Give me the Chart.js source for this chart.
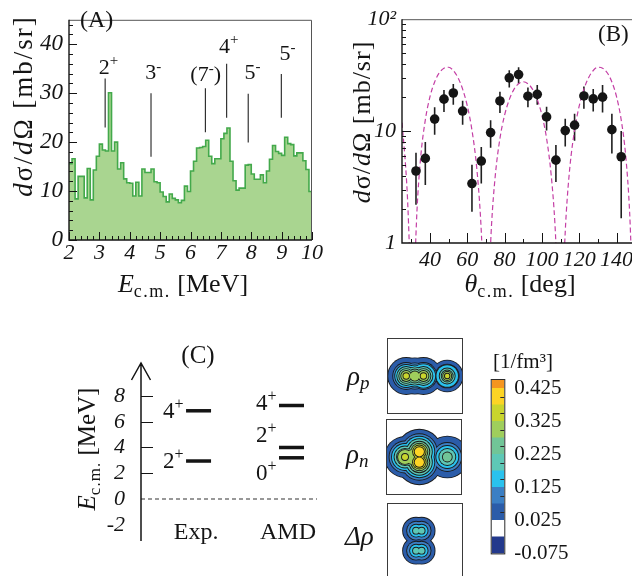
<!DOCTYPE html>
<html>
<head>
<meta charset="utf-8">
<script src="https://cdn.jsdelivr.net/npm/chart.js@4.4.1/dist/chart.umd.min.js"></script>
<style>
  html, body { margin: 0; padding: 0; background: #fff; }
  body { width: 632px; height: 576px; overflow: hidden; position: relative; }
  canvas { position: absolute; }
</style>
</head>
<body>
<canvas id="chartA" width="330" height="300" style="left:0;top:0"></canvas>
<canvas id="chartB" width="320" height="300" style="left:320px;top:0"></canvas>
<canvas id="chartC" width="330" height="246" style="left:0;top:330px"></canvas>
<canvas id="rhoP" width="132" height="82" style="left:335px;top:335px"></canvas>
<canvas id="rhoN" width="132" height="82" style="left:335px;top:416px"></canvas>
<canvas id="dRho" width="132" height="82" style="left:335px;top:500px"></canvas>
<canvas id="cbar" width="152" height="231" style="left:480px;top:345px"></canvas>
<script>
// ---- (A) spectrum, 0.1 MeV bins from 2.0 MeV ----
const countsA = [
  15.6, 16.6, 8.4, 13.0, 13.0, 8.6, 14.6, 8.2, 14.3, 17.1,
  19.6, 18.4, 18.2, 30.1, 18.2, 20.0, 14.5, 15.8, 12.5, 11.7,
  11.6, 9.0, 11.8, 9.0, 14.5, 13.8, 13.8, 14.5, 11.9, 11.7,
  9.8, 8.9, 7.8, 9.4, 8.5, 8.2, 7.6, 8.1, 11.0, 9.9,
  14.1, 16.1, 18.8, 18.9, 19.1, 20.4, 17.1, 15.6, 16.6, 16.6,
  20.7, 21.8, 22.9, 16.1, 12.1, 10.2, 10.6, 10.6, 15.3, 15.4,
  13.5, 12.4, 12.4, 13.3, 11.7, 14.1, 16.5, 19.3, 18.1, 17.7,
  17.3, 21.0, 19.7, 19.5, 17.2, 17.8, 17.8, 16.2, 14.4, 9.9
];
const eLow = countsA.map((_, i) => Math.round((2 + 0.1 * i) * 10) / 10);
const peakE = [3.19, 4.70, 6.49, 7.19, 7.90, 8.99];
const peakLo = [23.0, 17.0, 22.0, 25.0, 19.9, 25.0];
const peakHi = [33.0, 30.0, 31.0, 36.0, 29.9, 33.9];
const peakSpin = [['2', '+', ''], ['3', '-', ''], ['(7', '-', ')'], ['4', '+', ''], ['5', '-', ''], ['5', '-', '']];

// ---- (B) angular distribution ----
const thetaB = [32.5, 37.5, 42.5, 47.5, 52.5, 57.5, 62.5, 67.5, 72.5, 77.5, 82.5, 87.5,
  92.5, 97.5, 102.5, 107.5, 112.5, 117.5, 122.5, 127.5, 132.5, 137.5, 142.5];
const xsecB = [4.4, 5.7, 12.8, 19.3, 21.9, 15.1, 3.4, 5.4, 9.7, 18.6, 29.9, 32.0,
  20.5, 21.3, 13.4, 5.5, 10.1, 11.3, 20.6, 19.4, 20.1, 10.3, 5.9];
const errHiB = [6.4, 8.0, 16.3, 23.3, 26.3, 18.7, 5.0, 7.2, 12.5, 22.5, 35.0, 37.2,
  24.5, 25.8, 16.5, 7.5, 12.9, 14.3, 25.0, 23.8, 25.8, 14.3, 10.0];
const errLoB = [2.2, 3.3, 9.3, 14.8, 17.2, 11.4, 1.9, 3.4, 7.1, 14.5, 24.5, 26.5,
  16.3, 17.2, 10.1, 3.5, 7.3, 8.2, 15.8, 15.0, 14.7, 6.3, 1.66];
const curveTheta = [25, 27, 28, 29, 30.6, 32, 33, 35, 37.5, 40, 42.5, 45, 47.5, 50, 52.5, 55, 57.5,
  60, 62.5, 65, 67, 68, 70.1, 72, 73, 75, 77.5, 80, 82.5, 85, 87.5, 90, 92.5, 95, 97.5, 100,
  102.5, 105, 107, 108, 109.9, 112, 113, 115, 117.5, 120, 122.5, 125, 127.5, 130, 132.5, 135,
  137.5, 140, 142.5, 145, 147, 148, 149.4, 150];
const curveVal = [11.9, 4.7, 2.4, 0.87, 0.1, 0.69, 1.9, 5.8, 12.6, 20.3, 27.5, 33.2, 36.5, 37.2, 34.8,
  30.0, 23.7, 16.8, 10.2, 4.8, 1.8, 0.83, 0.1, 0.63, 1.46, 4.0, 8.6, 13.9, 19.1, 23.6, 26.5, 27.6,
  26.5, 23.6, 19.1, 13.9, 8.6, 4.0, 1.46, 0.63, 0.1, 0.83, 1.8, 4.8, 10.2, 16.8, 23.7, 30.0, 34.8,
  37.2, 36.5, 33.2, 27.5, 20.3, 12.6, 5.8, 1.9, 0.69, 0.1, 0.2];

// ---- (C) levels ----
const expE = [2.95, 6.85];
const expJ = ['2', '4'];
const amdE = [3.2, 4.0, 7.26];
const amdJ = ['0', '2', '4'];

// ---- densities (fm): centres and contour radii per level ----
const levelLow = [0.025, 0.075, 0.125, 0.175, 0.225, 0.275, 0.325, 0.375, 0.425];
const rhoPX = [-3.05, -1.65, -0.25, 3.6];
const rhoPY = [0, 0, 0, 0];
const rhoPR = [
  [2.92, 2.11, 1.78, 1.46, 1.13, 0.81, 0.45],
  [2.86, 2.05, 1.72, 1.40, 1.07, 0.75],
  [2.92, 2.11, 1.90, 1.46, 1.13, 0.81, 0.45],
  [2.50, 1.86, 1.75, 1.22, 0.89, 0.65, 0.37]
];
const rhoNX = [-3.08, -1.9, -0.76, -0.76, 3.78];
const rhoNY = [0, 0, 0.85, -0.85, 0];
const rhoNR = [
  [3.24, 2.51, 2.11, 1.70, 1.30, 1.13, 0.49],
  [3.30, 2.60, 2.20, 1.80, 1.40, 1.13],
  [3.57, 2.84, 2.43, 2.03, 1.62, 1.30, 1.02, 0.75],
  [3.57, 2.84, 2.43, 2.03, 1.62, 1.30, 1.02, 0.75],
  [3.32, 2.27, 1.78, 1.30, 0.73]
];
const dRhoX = [-1.45, -0.55, -1.45, -0.55];
const dRhoY = [1.67, 1.67, -1.57, -1.57];
const dRhoR = [
  [2.11, 1.46, 0.97, 0.49],
  [2.11, 1.46, 0.97, 0.49],
  [2.11, 1.46, 0.97, 0.49],
  [2.11, 1.46, 0.97, 0.49]
];
const cbLow = [-0.075, -0.025, 0.025, 0.075, 0.125, 0.175, 0.225, 0.275, 0.325, 0.375, 0.425];
const cbTop = 0.45;
const cbTicks = [-0.075, 0.025, 0.125, 0.225, 0.325, 0.425];

// ---- styles ----
const SERIF = '"Liberation Serif", "Times New Roman", serif';
const fnt = (size, style) => (style ? style + ' ' : '') + size + 'px ' + SERIF;
const tickFont = (size, style) => ({ family: SERIF, size: size, style: style || 'normal' });
const levelColors = ['#2b5ca9', '#3b7fc4', '#2ac2ee', '#5ec8b6', '#71c597', '#9fce5c', '#c9d52d', '#fcd425', '#f5951f'];
const cbColors = ['#23398c', '#ffffff'].concat(levelColors);
const INK = '#141414';

Chart.defaults.animation = false;
Chart.defaults.events = [];
Chart.defaults.font.family = SERIF;
Chart.defaults.color = INK;
Chart.defaults.plugins.legend.display = false;
Chart.defaults.plugins.tooltip.enabled = false;

// draw a run of text pieces (font / baseline shift), optionally rotated
function rich(ctx, x, y, parts, align, angle) {
  ctx.save();
  ctx.translate(x, y);
  if (angle) ctx.rotate(angle);
  ctx.textAlign = 'left';
  ctx.textBaseline = 'alphabetic';
  let w = 0;
  parts.forEach(p => {
    ctx.font = p.f;
    ctx.letterSpacing = p.ls || '0px';
    p.w = ctx.measureText(p.t).width;
    w += p.w;
  });
  let cx = align === 'center' ? -w / 2 : align === 'right' ? -w : 0;
  parts.forEach(p => {
    ctx.font = p.f;
    ctx.letterSpacing = p.ls || '0px';
    ctx.fillStyle = INK;
    ctx.fillText(p.t, cx, p.dy || 0);
    cx += p.w;
  });
  ctx.restore();
}

function spinParts(s, size) {
  return [
    { t: s[0], f: fnt(size) },
    { t: s[1], f: fnt(Math.round(size * 0.68)), dy: -size * 0.4 },
    { t: s[2], f: fnt(size) }
  ];
}

function range(a, b, step) {
  const out = [];
  for (let v = a; v <= b + 1e-9; v += step) out.push(Math.round(v * 1000) / 1000);
  return out;
}

function xTicksUp(chart, vals, len) {
  const { ctx, chartArea: a, scales: { x } } = chart;
  ctx.beginPath();
  vals.forEach(v => {
    const px = Math.round(x.getPixelForValue(v)) + 0.5;
    ctx.moveTo(px, a.bottom);
    ctx.lineTo(px, a.bottom - len);
  });
  ctx.stroke();
}

function yTicksRight(chart, vals, len) {
  const { ctx, chartArea: a, scales: { y } } = chart;
  ctx.beginPath();
  vals.forEach(v => {
    const py = Math.round(y.getPixelForValue(v)) + 0.5;
    ctx.moveTo(a.left, py);
    ctx.lineTo(a.left + len, py);
  });
  ctx.stroke();
}

function frame(chart) {
  const { ctx, chartArea: a } = chart;
  ctx.strokeStyle = '#555';
  ctx.lineWidth = 1;
  ctx.beginPath();
  ctx.moveTo(a.left, a.top + 0.5);
  ctx.lineTo(a.right - 0.5, a.top + 0.5);
  ctx.lineTo(a.right - 0.5, a.bottom);
  ctx.stroke();
  ctx.strokeStyle = INK;
  ctx.lineWidth = 1.4;
  ctx.beginPath();
  ctx.moveTo(a.left, a.top);
  ctx.lineTo(a.left, a.bottom);
  ctx.lineTo(a.right, a.bottom);
  ctx.stroke();
}

const fixedTicks = vals => s => { s.ticks = vals.map(v => ({ value: v })); };
const noGrid = { display: false, drawTicks: false };

// ================= (A) =================
const histPts = eLow.map((e, i) => ({ x: e, y: countsA[i] }));
histPts.push({ x: 10, y: countsA[countsA.length - 1] });

const markerSets = peakE.map((e, i) => ({
  data: [{ x: e, y: peakLo[i] }, { x: e, y: peakHi[i] }],
  borderColor: '#222', borderWidth: 1.1, pointRadius: 0
}));

const panelA = {
  id: 'panelA',
  afterDraw(chart) {
    const { ctx, scales: { x, y } } = chart;
    ctx.save();
    ctx.strokeStyle = INK;
    ctx.lineWidth = 1;
    xTicksUp(chart, range(2, 10, 0.2), 4);
    xTicksUp(chart, range(2, 10, 1), 8);
    yTicksRight(chart, range(0, 44, 2), 4);
    yTicksRight(chart, range(0, 40, 10), 8);
    frame(chart);
    const labelE = [3.30, 4.77, 6.50, 7.26, 8.04, 9.19];
    const labelY = [34.0, 32.8, 32.4, 38.2, 32.8, 36.7];
    peakSpin.forEach((s, i) => {
      rich(ctx, x.getPixelForValue(labelE[i]), y.getPixelForValue(labelY[i]), spinParts(s, 22), 'center');
    });
    rich(ctx, 80, 27, [{ t: '(A)', f: fnt(24) }], 'left');
    rich(ctx, 183, 292, [
      { t: 'E', f: fnt(26, 'italic') },
      { t: 'c.m.', f: fnt(18), dy: 5, ls: '1.5px' },
      { t: ' [MeV]', f: fnt(26) }
    ], 'center');
    rich(ctx, 32, 106, [
      { t: 'd', f: fnt(27, 'italic'), ls: '2px' },
      { t: 'σ/', f: fnt(27), ls: '2px' },
      { t: 'd', f: fnt(27, 'italic'), ls: '2px' },
      { t: 'Ω [mb/sr]', f: fnt(27), ls: '2px' }
    ], 'center', -Math.PI / 2);
    ctx.restore();
  }
};

new Chart(document.getElementById('chartA'), {
  type: 'line',
  data: {
    datasets: [{
      data: histPts, stepped: true, fill: 'origin',
      backgroundColor: '#a9d590', borderColor: '#43a94b', borderWidth: 1.6,
      pointRadius: 0, clip: 0
    }].concat(markerSets)
  },
  options: {
    responsive: false,
    layout: { padding: { left: 0, top: 7, right: 18, bottom: 0 } },
    scales: {
      x: {
        type: 'linear', min: 2, max: 10, grid: noGrid, border: { display: false },
        afterBuildTicks: fixedTicks(range(2, 10, 1)),
        ticks: { font: tickFont(22, 'italic'), padding: 0, maxRotation: 0, autoSkip: false, color: INK },
        afterFit: s => { s.height = 60; }
      },
      y: {
        type: 'linear', min: 0, max: 45, grid: noGrid, border: { display: false },
        afterBuildTicks: fixedTicks([0, 10, 20, 30, 40]),
        ticks: { font: tickFont(23, 'italic'), padding: 6, color: INK },
        afterFit: s => { s.width = 69; }
      }
    }
  },
  plugins: [panelA]
});

// ================= (B) =================
const panelB = {
  id: 'panelB',
  beforeDatasetsDraw(chart) {
    const { ctx, scales: { x, y } } = chart;
    ctx.save();
    ctx.strokeStyle = '#202020';
    ctx.lineWidth = 1.6;
    ctx.beginPath();
    thetaB.forEach((t, i) => {
      const px = x.getPixelForValue(t);
      ctx.moveTo(px, y.getPixelForValue(errHiB[i]));
      ctx.lineTo(px, y.getPixelForValue(errLoB[i]));
    });
    ctx.stroke();
    ctx.restore();
  },
  afterDraw(chart) {
    const { ctx } = chart;
    ctx.save();
    ctx.strokeStyle = INK;
    ctx.lineWidth = 1;
    xTicksUp(chart, range(30, 150, 20), 4);
    xTicksUp(chart, range(40, 140, 20), 10);
    const minors = [];
    [1, 10].forEach(d => { for (let m = 2; m <= 9; m++) minors.push(d * m); });
    yTicksRight(chart, minors, 4);
    yTicksRight(chart, [10], 9);
    frame(chart);
    rich(ctx, 278, 41, [{ t: '(B)', f: fnt(23) }], 'left');
    rich(ctx, 200, 292, [
      { t: 'θ', f: fnt(26, 'italic') },
      { t: 'c.m.', f: fnt(18), dy: 5, ls: '1.5px' },
      { t: ' [deg]', f: fnt(26) }
    ], 'center');
    rich(ctx, 50, 122, [
      { t: 'd', f: fnt(26, 'italic'), ls: '1px' },
      { t: 'σ/', f: fnt(26), ls: '1px' },
      { t: 'd', f: fnt(26, 'italic'), ls: '1px' },
      { t: 'Ω [mb/sr]', f: fnt(26), ls: '1px' }
    ], 'center', -Math.PI / 2);
    ctx.restore();
  }
};

new Chart(document.getElementById('chartB'), {
  type: 'scatter',
  data: {
    datasets: [
      {
        data: thetaB.map((t, i) => ({ x: t, y: xsecB[i] })),
        pointRadius: 4.8, pointBackgroundColor: '#151515', pointBorderWidth: 0, clip: 8
      },
      {
        type: 'line',
        data: curveTheta.map((t, i) => ({ x: t, y: curveVal[i] })),
        borderColor: '#c43fa5', borderWidth: 1.2, borderDash: [5, 3],
        pointRadius: 0, cubicInterpolationMode: 'monotone', clip: 0
      }
    ]
  },
  options: {
    responsive: false,
    layout: { padding: { left: 0, top: 17, right: 3, bottom: 0 } },
    scales: {
      x: {
        type: 'linear', min: 25, max: 150, grid: noGrid, border: { display: false },
        afterBuildTicks: fixedTicks(range(40, 140, 20)),
        ticks: { font: tickFont(22, 'italic'), padding: 4, maxRotation: 0, autoSkip: false, color: INK },
        afterFit: s => { s.height = 57; }
      },
      y: {
        type: 'logarithmic', min: 1, max: 100, grid: noGrid, border: { display: false },
        afterBuildTicks: fixedTicks([1, 10, 100]),
        ticks: { font: tickFont(22, 'italic'), padding: 6, color: INK,
          callback: v => (v === 100 ? '10²' : String(v)) },
        afterFit: s => { s.width = 82; }
      }
    }
  },
  plugins: [panelB]
});

// ================= (C) =================
const EXP_X = [2.56, 3.98];
const AMD_X = [7.84, 9.26];
const expLabelDy = [7, 7.7];
const amdLabelDy = [22, -5.6, 4.7];

const levelSets = [];
expE.forEach(e => levelSets.push({ data: [{ x: EXP_X[0], y: e }, { x: EXP_X[1], y: e }] }));
amdE.forEach(e => levelSets.push({ data: [{ x: AMD_X[0], y: e }, { x: AMD_X[1], y: e }] }));
levelSets.forEach(d => Object.assign(d, { borderColor: INK, borderWidth: 3.5, pointRadius: 0 }));
levelSets.push({
  data: [{ x: 0, y: 0 }, { x: 10, y: 0 }],
  borderColor: '#333', borderWidth: 1.2, borderDash: [4, 3], pointRadius: 0
});

const panelC = {
  id: 'panelC',
  afterDraw(chart) {
    const { ctx, chartArea: a, scales: { x, y } } = chart;
    ctx.save();
    ctx.strokeStyle = INK;
    ctx.lineWidth = 1.5;
    const ax = a.left;
    ctx.beginPath();
    ctx.moveTo(ax, a.bottom);
    ctx.lineTo(ax, a.top);
    ctx.moveTo(ax - 9.5, a.top + 17);
    ctx.lineTo(ax, a.top);
    ctx.lineTo(ax + 9.5, a.top + 17);
    ctx.stroke();
    ctx.lineWidth = 1.2;
    ctx.beginPath();
    [2, 4, 6, 8].forEach(v => {
      const py = Math.round(y.getPixelForValue(v)) + 0.5;
      ctx.moveTo(ax, py);
      ctx.lineTo(ax + 12, py);
    });
    ctx.stroke();
    expE.forEach((e, i) => {
      rich(ctx, x.getPixelForValue(EXP_X[0]) - 2.5, y.getPixelForValue(e) + expLabelDy[i],
        spinParts([expJ[i], '+', ''], 23), 'right');
    });
    amdE.forEach((e, i) => {
      rich(ctx, x.getPixelForValue(AMD_X[0]) - 2.5, y.getPixelForValue(e) + amdLabelDy[i],
        spinParts([amdJ[i], '+', ''], 23), 'right');
    });
    const base = y.getPixelForValue(-3.1);
    rich(ctx, x.getPixelForValue(3.13), base, [{ t: 'Exp.', f: fnt(24) }], 'center');
    rich(ctx, x.getPixelForValue(8.35), base, [{ t: 'AMD', f: fnt(24) }], 'center');
    rich(ctx, 198, 33, [{ t: '(C)', f: fnt(25) }], 'center');
    rich(ctx, 95, 119, [
      { t: 'E', f: fnt(25, 'italic') },
      { t: 'c.m.', f: fnt(17), dy: 5, ls: '1px' },
      { t: ' [MeV]', f: fnt(25) }
    ], 'center', -Math.PI / 2);
    ctx.restore();
  }
};

new Chart(document.getElementById('chartC'), {
  type: 'line',
  data: { datasets: levelSets },
  options: {
    responsive: false,
    layout: { padding: { left: 0, top: 33, right: 13, bottom: 0 } },
    scales: {
      x: {
        type: 'linear', min: 0, max: 10, grid: noGrid, border: { display: false },
        ticks: { display: false },
        afterFit: s => { s.height = 35; }
      },
      y: {
        type: 'linear', min: -3.26, max: 10.56, grid: noGrid, border: { display: false },
        afterBuildTicks: fixedTicks([-2, 0, 2, 4, 6, 8]),
        ticks: { font: tickFont(22, 'italic'), padding: 16, color: INK },
        afterFit: s => { s.width = 141; }
      }
    }
  },
  plugins: [panelC]
});

// ================= densities =================
const radiusPx = c => {
  const sx = c.chart.scales.x;
  return Math.abs(sx.getPixelForValue(c.raw.r) - sx.getPixelForValue(0));
};

function contourSets(xs, ys, rs) {
  const nLev = Math.max.apply(null, rs.map(r => r.length));
  const sets = [];
  for (let k = 0; k < nLev; k++) {
    const pts = [];
    xs.forEach((x, i) => { if (rs[i][k] != null) pts.push({ x: x, y: ys[i], r: rs[i][k] }); });
    sets.push({ data: pts, pointRadius: c => radiusPx(c) + 0.9, pointBackgroundColor: '#1b1b1b',
      pointBorderWidth: 0, clip: 0 });
    sets.push({ data: pts, pointRadius: radiusPx, pointBackgroundColor: levelColors[k],
      pointBorderWidth: 0, clip: 0 });
  }
  return sets.reverse();
}

function densityChart(id, xs, ys, rs, padLeft, labelParts, labelX, labelY) {
  new Chart(document.getElementById(id), {
    type: 'scatter',
    data: { datasets: contourSets(xs, ys, rs) },
    options: {
      responsive: false,
      layout: { padding: { left: padLeft, right: 132 - padLeft - 74, top: 4, bottom: 4 } },
      scales: {
        x: { type: 'linear', min: -6, max: 6, display: false },
        y: { type: 'linear', min: -6, max: 6, display: false }
      }
    },
    plugins: [{
      id: 'box',
      afterDraw(chart) {
        const { ctx, chartArea: a } = chart;
        ctx.save();
        ctx.strokeStyle = '#3a3a3a';
        ctx.lineWidth = 1;
        ctx.strokeRect(a.left - 0.5, a.top - 0.5, a.right - a.left + 1, a.bottom - a.top + 1);
        rich(ctx, labelX, labelY, labelParts, 'left');
        ctx.restore();
      }
    }]
  });
}

densityChart('rhoP', rhoPX, rhoPY, rhoPR, 53,
  [{ t: 'ρ', f: fnt(27, 'italic') }, { t: 'p', f: fnt(19, 'italic'), dy: 4 }], 12, 50);
densityChart('rhoN', rhoNX, rhoNY, rhoNR, 52,
  [{ t: 'ρ', f: fnt(27, 'italic') }, { t: 'n', f: fnt(19, 'italic'), dy: 4 }], 11, 47);
densityChart('dRho', dRhoX, dRhoY, dRhoR, 53,
  [{ t: 'Δρ', f: fnt(27, 'italic') }], 10, 45);

// ================= colour bar =================
new Chart(document.getElementById('cbar'), {
  type: 'bar',
  data: {
    labels: ['rho'],
    datasets: cbLow.map((lo, i) => ({
      data: [[lo, i < cbLow.length - 1 ? cbLow[i + 1] : cbTop]],
      backgroundColor: cbColors[i], borderWidth: 0,
      barPercentage: 1, categoryPercentage: 1, grouped: false
    }))
  },
  options: {
    responsive: false,
    layout: { padding: { left: 11.7, top: 35, right: 0, bottom: 12 } },
    scales: {
      x: { display: false },
      y: {
        position: 'right', min: -0.075, max: cbTop, grid: noGrid, border: { display: false },
        afterBuildTicks: fixedTicks(cbTicks),
        ticks: { font: tickFont(21), padding: 10, color: INK, callback: v => v.toFixed(3) },
        afterFit: s => { s.width = 127.7; }
      }
    }
  },
  plugins: [{
    id: 'cbFrame',
    afterDraw(chart) {
      const { ctx, chartArea: a, scales: { y } } = chart;
      ctx.save();
      ctx.strokeStyle = '#2a2a2a';
      ctx.lineWidth = 1;
      ctx.beginPath();
      range(0.05, 0.4, 0.05).forEach(v => {
        const py = Math.round(y.getPixelForValue(v)) + 0.5;
        ctx.moveTo(a.right - 4, py);
        ctx.lineTo(a.right, py);
      });
      ctx.stroke();
      ctx.strokeRect(a.left - 0.5, a.top - 0.5, a.right - a.left + 1, a.bottom - a.top + 1);
      rich(ctx, 13, 23, [{ t: '[1/fm³]', f: fnt(21) }], 'left');
      ctx.restore();
    }
  }]
});
</script>
</body>
</html>
